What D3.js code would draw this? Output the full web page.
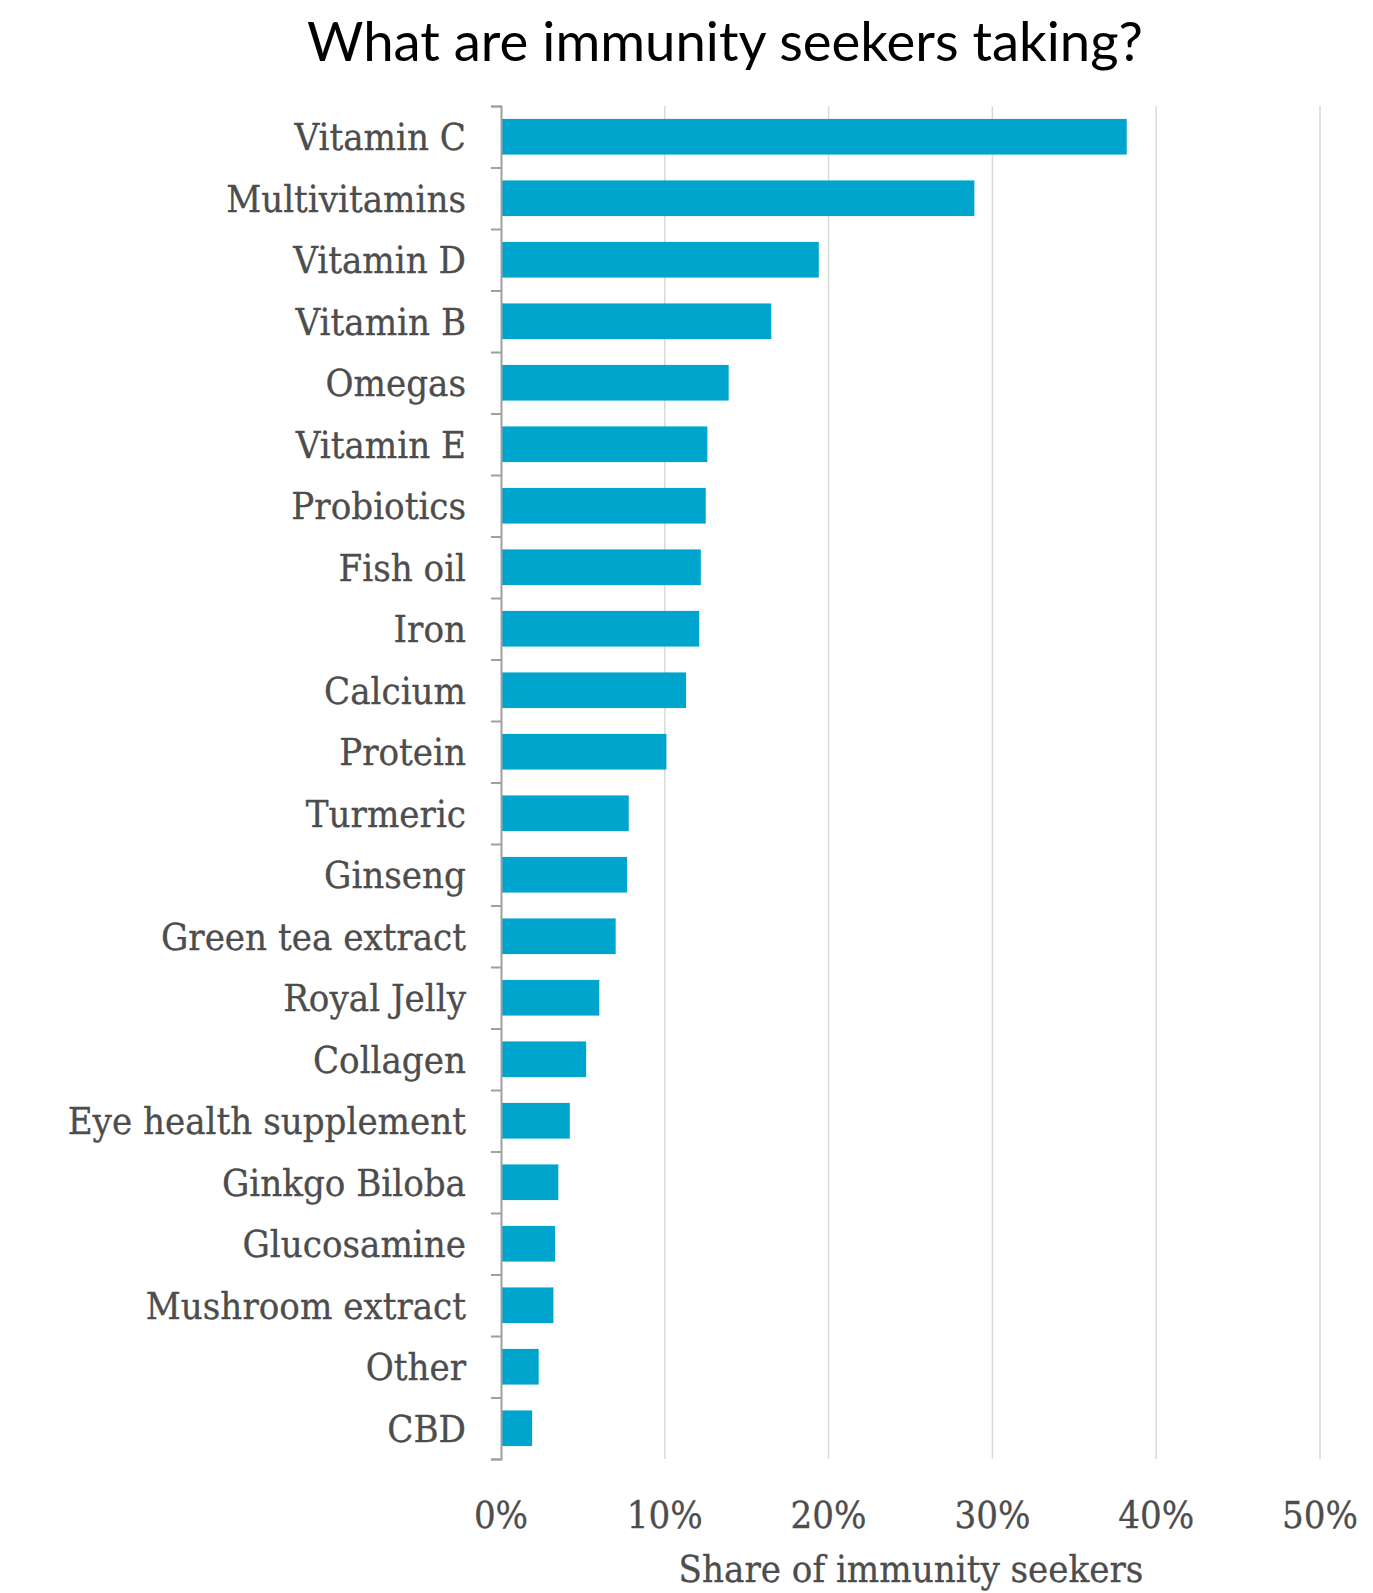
<!DOCTYPE html>
<html>
<head>
<meta charset="utf-8">
<script src="https://cdn.jsdelivr.net/npm/d3@7"></script>
<style>
  body { margin: 0; background: #fff; }
  .cat { font-family: "DejaVu Serif Condensed", "DejaVu Serif", serif; font-stretch: condensed; font-size: 38px; fill: #4d4d4d; stroke: #4d4d4d; stroke-width: 0.3px; }
  .tick-x { font-family: "DejaVu Serif Condensed", "DejaVu Serif", serif; font-stretch: condensed; font-size: 38px; fill: #4d4d4d; stroke: #4d4d4d; stroke-width: 0.3px; }
</style>
</head>
<body>
<div id="chart"></div>
<script>
// Supplements taken by immunity seekers, share in %

const categories = ["Vitamin C", "Multivitamins", "Vitamin D", "Vitamin B", "Omegas", "Vitamin E",
  "Probiotics", "Fish oil", "Iron", "Calcium", "Protein", "Turmeric", "Ginseng", "Green tea extract",
  "Royal Jelly", "Collagen", "Eye health supplement", "Ginkgo Biloba", "Glucosamine",
  "Mushroom extract", "Other", "CBD"];
const shares = [38.2, 28.9, 19.4, 16.5, 13.9, 12.6, 12.5, 12.2, 12.1, 11.3, 10.1, 7.8, 7.7, 7.0,
  6.0, 5.2, 4.2, 3.5, 3.3, 3.2, 2.3, 1.9];
const xTicks = [0, 10, 20, 30, 40, 50];

const data = categories.map((c, i) => ({ name: c, value: shares[i] }));

const w = 1373, h = 1593;
const pT = 106, pB = 134, pL = 501, pR = 53; // padding, clockwise from top

const svg = d3.select("#chart").append("svg")
  .attr("width", w)
  .attr("height", h);

// Scales
const xScale = d3.scaleLinear().domain([0, 50]).range([pL, w - pR]);
const yScale = d3.scaleBand().domain(categories).range([pT, h - pB]).paddingInner(0.42).paddingOuter(0.21);
const yIdx = d3.scaleLinear().domain([0, categories.length]).range([pT, h - pB]);

// Title
svg.append("text")
  .attr("x", 725)
  .attr("y", 61)
  .attr("text-anchor", "middle")
  .style("font-family", "Lato, sans-serif")
  .style("font-size", "54.5px")
  .style("fill", "#000")
  .text("What are immunity seekers taking?");

// Gridlines
svg.append("g")
  .selectAll("line")
  .data(xTicks.slice(1))
  .enter()
  .append("line")
  .attr("x1", d => xScale(d))
  .attr("x2", d => xScale(d))
  .attr("y1", pT)
  .attr("y2", h - pB)
  .attr("stroke", "#d9d9d9")
  .attr("stroke-width", 1.5);

// Bars
svg.selectAll(".bar")
  .data(data)
  .enter()
  .append("rect")
  .attr("class", "bar")
  .attr("x", xScale(0))
  .attr("y", d => yScale(d.name))
  .attr("width", d => xScale(d.value) - xScale(0))
  .attr("height", yScale.bandwidth())
  .attr("fill", "#00a5cd");

// Y axis: ticks between categories
const yAxis = d3.axisLeft(yIdx)
  .tickValues(d3.range(0, categories.length + 1))
  .tickSize(10)
  .tickFormat("");

const gy = svg.append("g")
  .attr("transform", `translate(${pL} 0)`)
  .call(yAxis);
gy.select(".domain").attr("stroke", "#a0a0a0").attr("stroke-width", 2);
gy.selectAll(".tick line").attr("stroke", "#a0a0a0").attr("stroke-width", 2);

// Category labels
svg.append("g")
  .selectAll("text")
  .data(categories)
  .enter()
  .append("text")
  .attr("class", "cat")
  .attr("x", pL - 35)
  .attr("y", d => yScale(d) + yScale.bandwidth() / 2)
  .attr("dy", "0.36em")
  .attr("text-anchor", "end")
  .text(d => d);

// X tick labels
svg.append("g")
  .selectAll("text")
  .data(xTicks)
  .enter()
  .append("text")
  .attr("class", "tick-x")
  .attr("x", d => xScale(d))
  .attr("y", 1528)
  .attr("text-anchor", "middle")
  .text(d => d + "%");

// X axis label
svg.append("text")
  .attr("class", "tick-x")
  .attr("x", 911)
  .attr("y", 1582)
  .attr("text-anchor", "middle")
  .text("Share of immunity seekers");
</script>
</body>
</html>
